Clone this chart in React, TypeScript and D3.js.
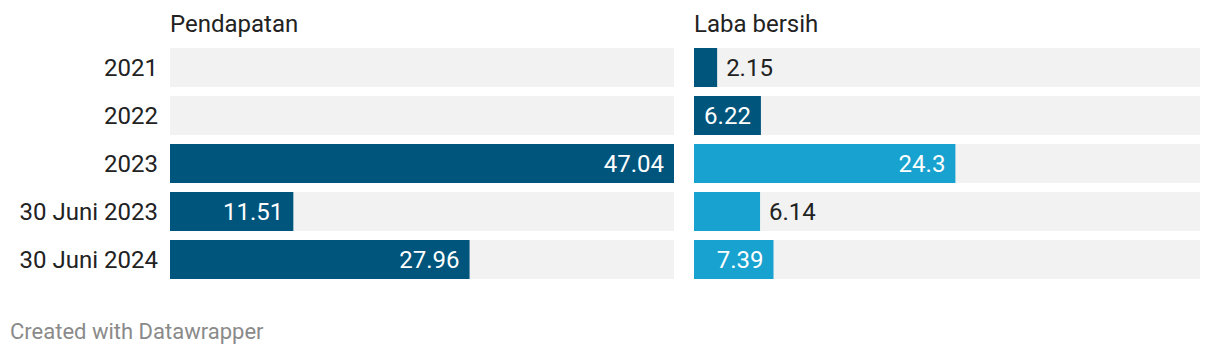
import React from "react";
import * as d3 from "d3";

const categories = ["2021", "2022", "2023", "30 Juni 2023", "30 Juni 2024"];
const pendapatan: (number | null)[] = [null, null, 47.04, 11.51, 27.96];
const labaBersih: (number | null)[] = [2.15, 6.22, 24.3, 6.14, 7.39];
const pendapatanColors = ["#00557d", "#00557d", "#00557d", "#00557d", "#00557d"];
const labaColors = ["#00557d", "#00557d", "#18a2cf", "#18a2cf", "#18a2cf"];
const panelTitles = ["Pendapatan", "Laba bersih"];
const footer = "Created with Datawrapper";

const W = 1220;
const H = 356;
const FONT = "Roboto, 'Noto Sans', sans-serif";

function Panel({
  x0,
  width,
  title,
  values,
  colors,
  y,
  maxVal,
}: {
  x0: number;
  width: number;
  title: string;
  values: (number | null)[];
  colors: string[];
  y: d3.ScaleBand<string>;
  maxVal: number;
}) {
  const x = d3.scaleLinear().domain([0, maxVal]).range([0, width]);
  const bw = y.bandwidth();
  return (
    <g transform={`translate(${x0},0)`}>
      <text x={0} y={32} fontSize={24} fill="#222" fontFamily={FONT}>
        {title}
      </text>
      {categories.map((c, i) => {
        const v = values[i];
        const yy = y(c)!;
        const barW = v == null ? 0 : x(v);
        const inside = barW >= 66.5;
        return (
          <g key={c}>
            <rect x={0} y={yy} width={width} height={bw} fill="#f2f2f2" />
            {v != null && (
              <rect x={0} y={yy} width={barW} height={bw} fill={colors[i]} />
            )}
            {v != null && (
              <text
                x={inside ? barW - 10 : barW + 9}
                y={yy + bw / 2}
                dy="0.35em"
                textAnchor={inside ? "end" : "start"}
                fontSize={24}
                fill={inside ? "#ffffff" : "#222"}
                fontFamily={FONT}
              >
                {String(v)}
              </text>
            )}
          </g>
        );
      })}
    </g>
  );
}

export default function App() {
  const y = d3
    .scaleBand<string>()
    .domain(categories)
    .range([48, 48 + 48 * categories.length - 9])
    .paddingInner(9 / 48)
    .paddingOuter(0);
  const maxVal = d3.max([...pendapatan, ...labaBersih].map((d) => d ?? 0))!;
  return (
    <svg
      width={W}
      height={H}
      style={{ position: "absolute", left: 0, top: 0, background: "#fff" }}
    >
      {categories.map((c) => (
        <text
          key={c}
          x={158}
          y={y(c)! + y.bandwidth() / 2}
          dy="0.35em"
          textAnchor="end"
          fontSize={24}
          fill="#222"
          fontFamily={FONT}
        >
          {c}
        </text>
      ))}
      <Panel
        x0={170}
        width={504}
        title={panelTitles[0]}
        values={pendapatan}
        colors={pendapatanColors}
        y={y}
        maxVal={maxVal}
      />
      <Panel
        x0={694}
        width={506}
        title={panelTitles[1]}
        values={labaBersih}
        colors={labaColors}
        y={y}
        maxVal={maxVal}
      />
      <text x={10} y={339} fontSize={22} fill="#8a8a8a" fontFamily={FONT}>
        {footer}
      </text>
    </svg>
  );
}
